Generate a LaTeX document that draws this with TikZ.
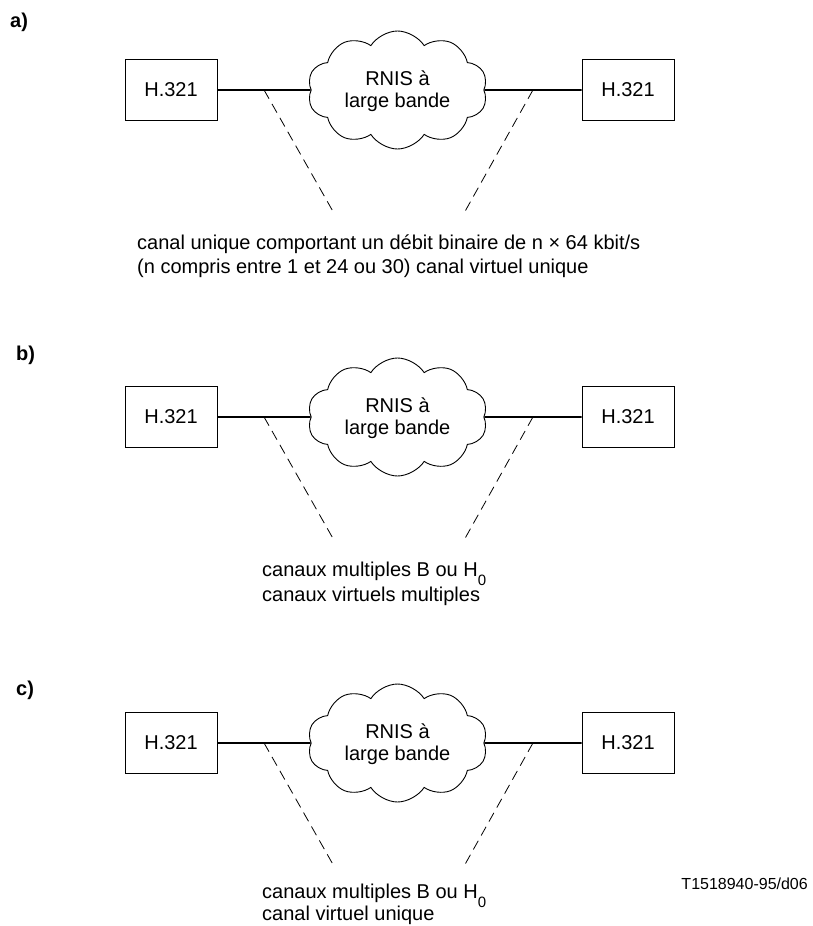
\documentclass[tikz,border=0pt]{standalone}
\usepackage{fontspec}
\setmainfont{Liberation Sans}
\usetikzlibrary{shapes.symbols,calc}
\begin{document}
\begin{tikzpicture}[x=1pt,y=-1pt,
  box/.style={draw, line width=0.9pt, minimum width=92pt, minimum height=61pt, inner sep=0pt, font=\fontsize{20}{24}\selectfont},
  net/.style={cloud, draw, line width=0.9pt, cloud puffs=10, cloud puff arc=115, aspect=1.5, minimum width=180pt, minimum height=118pt, inner sep=0pt},
  nettext/.style={align=center, inner sep=0pt, font=\fontsize{20}{22}\selectfont},
  link/.style={line width=1.8pt},
  dashline/.style={line width=0.8pt, dash pattern=on 10pt off 6pt},
  lab/.style={inner sep=0pt, font=\fontsize{20}{24}\selectfont\bfseries},
  txt/.style={inner sep=0pt, font=\fontsize{20}{24}\selectfont},
  ref/.style={inner sep=0pt, font=\fontsize{16}{18}\selectfont}]
\useasboundingbox (0,0) rectangle (813,926);
\foreach \p/\Y/\lx/\ly in {a/90/10/22, b/417/16/355, c/743/16/690} {
  \node[lab, anchor=west] (lab\p) at (\lx,\ly) {\p)};
  \node[box] (L\p) at (171,\Y) {H.321};
  \node[box] (R\p) at (628,\Y) {H.321};
  \node[net] (N\p) at (397.5,\Y) {};
  \node[nettext] (T\p) at (397.5,\Y+1) {RNIS à\\large bande};
  \draw[link] (L\p.east) -- (N\p.west);
  \draw[link] (N\p.east) -- (R\p.west);
  \coordinate (s1\p) at ($(L\p.east)!0.5!(N\p.west)$);
  \coordinate (s2\p) at ($(N\p.east)!0.5!(R\p.west)$);
  \coordinate (e1\p) at (335,\Y+125);
  \coordinate (e2\p) at (463,\Y+125);
  \draw[dashline] (s1\p) -- (e1\p);
  \draw[dashline] (s2\p) -- (e2\p);
}
\node[txt, anchor=base west] (ta1) at (137,249) {canal unique comportant un débit binaire de n × 64 kbit/s};
\node[txt, anchor=base west] (ta2) at (137,273) {(n compris entre 1 et 24 ou 30) canal virtuel unique};
\node[txt, anchor=base west] (tb1) at (262,576) {canaux multiples B ou H\raisebox{-9pt}{\fontsize{15}{15}\selectfont 0}};
\node[txt, anchor=base west] (tb2) at (262,601) {canaux virtuels multiples};
\node[txt, anchor=base west] (tc1) at (262,898) {canaux multiples B ou H\raisebox{-9pt}{\fontsize{15}{15}\selectfont 0}};
\node[txt, anchor=base west] (tc2) at (262,920) {canal virtuel unique};
\node[ref, anchor=base east] (code) at (808,889) {T1518940-95/d06};
\end{tikzpicture}
\end{document}
